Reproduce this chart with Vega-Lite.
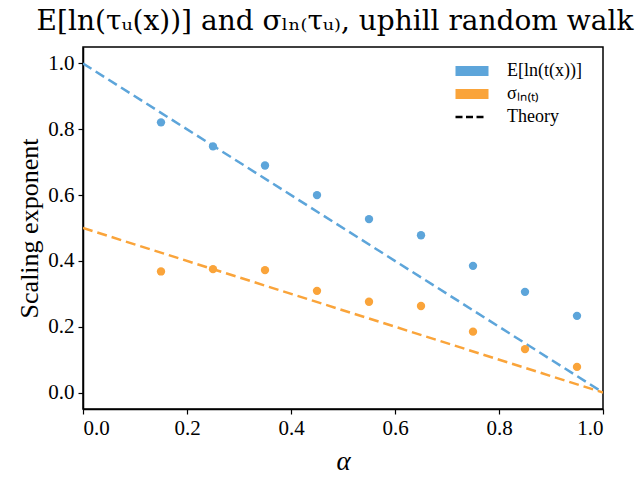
{
  "$schema": "https://vega.github.io/schema/vega-lite/v6.json",
  "autosize": "none",
  "width": 520,
  "height": 362,
  "padding": {"left": 83, "top": 47, "right": 33, "bottom": 68},
  "background": "white",
  "title": {
    "text": "E[ln(τᵤ(x))] and σₗₙ₍τᵤ₎, uphill random walk",
    "font": "DejaVu Serif",
    "fontSize": 28,
    "fontWeight": "normal",
    "color": "black",
    "anchor": "middle",
    "dx": -8,
    "offset": 11
  },
  "config": {
    "view": {"stroke": "black", "strokeWidth": 1.5},
    "font": "Liberation Serif",
    "axis": {"labelFont": "Liberation Serif", "labelFontSize": 21, "labelColor": "black"},
    "legend": {"labelFont": "Liberation Serif", "labelFontSize": 18, "labelColor": "black"},
    "style": {"guide-label": {"font": "Liberation Serif", "fontSize": 21, "fill": "black"}}
  },
  "datasets": {
    "pts": [
      {"alpha": 0.15, "value": 0.821, "series": "E[ln(t(x))]"},
      {"alpha": 0.25, "value": 0.748, "series": "E[ln(t(x))]"},
      {"alpha": 0.35, "value": 0.690, "series": "E[ln(t(x))]"},
      {"alpha": 0.45, "value": 0.600, "series": "E[ln(t(x))]"},
      {"alpha": 0.55, "value": 0.527, "series": "E[ln(t(x))]"},
      {"alpha": 0.65, "value": 0.478, "series": "E[ln(t(x))]"},
      {"alpha": 0.75, "value": 0.385, "series": "E[ln(t(x))]"},
      {"alpha": 0.85, "value": 0.306, "series": "E[ln(t(x))]"},
      {"alpha": 0.95, "value": 0.233, "series": "E[ln(t(x))]"},
      {"alpha": 0.15, "value": 0.368, "series": "σₗₙ₍ₜ₎"},
      {"alpha": 0.25, "value": 0.375, "series": "σₗₙ₍ₜ₎"},
      {"alpha": 0.35, "value": 0.372, "series": "σₗₙ₍ₜ₎"},
      {"alpha": 0.45, "value": 0.309, "series": "σₗₙ₍ₜ₎"},
      {"alpha": 0.55, "value": 0.276, "series": "σₗₙ₍ₜ₎"},
      {"alpha": 0.65, "value": 0.263, "series": "σₗₙ₍ₜ₎"},
      {"alpha": 0.75, "value": 0.185, "series": "σₗₙ₍ₜ₎"},
      {"alpha": 0.85, "value": 0.132, "series": "σₗₙ₍ₜ₎"},
      {"alpha": 0.95, "value": 0.078, "series": "σₗₙ₍ₜ₎"}
    ],
    "theory": [
      {"alpha": 0, "value": 1.0, "series": "E[ln(t(x))]"},
      {"alpha": 1, "value": 0.0, "series": "E[ln(t(x))]"},
      {"alpha": 0, "value": 0.5, "series": "σₗₙ₍ₜ₎"},
      {"alpha": 1, "value": 0.0, "series": "σₗₙ₍ₜ₎"}
    ]
  },
  "encoding": {
    "x": {
      "field": "alpha", "type": "quantitative",
      "scale": {"domain": [0, 1], "nice": false, "zero": false},
      "axis": {
        "values": [0, 0.2, 0.4, 0.6, 0.8, 1.0], "format": ".1f",
        "title": "α", "titleFont": "Liberation Serif", "titleFontSize": 27, "titleFontStyle": "italic", "titleFontWeight": "normal", "titleColor": "black", "titlePadding": 10,
        "labelFont": "Liberation Serif", "labelFontSize": 21, "labelColor": "black", "labelPadding": 3,
        "domainColor": "black", "domainWidth": 1.5, "tickColor": "black", "tickWidth": 1.2, "tickSize": 5, "grid": false
      }
    },
    "y": {
      "field": "value", "type": "quantitative",
      "scale": {"domain": [-0.05, 1.05], "nice": false, "zero": false},
      "axis": {
        "values": [0, 0.2, 0.4, 0.6, 0.8, 1.0], "format": ".1f",
        "title": "Scaling exponent", "titleFont": "Liberation Serif", "titleFontSize": 26, "titleFontWeight": "normal", "titleColor": "black", "titlePadding": 5,
        "labelFont": "Liberation Serif", "labelFontSize": 21, "labelColor": "black", "labelPadding": 4,
        "domainColor": "black", "domainWidth": 1.5, "tickColor": "black", "tickWidth": 1.2, "tickSize": 5, "grid": false
      }
    },
    "color": {
      "field": "series", "type": "nominal",
      "scale": {"domain": ["E[ln(t(x))]", "σₗₙ₍ₜ₎", "Theory"], "range": ["#5DA5DA", "#FAA43A", "black"]},
      "legend": {
        "orient": "none",
        "legendX": 371,
        "legendY": 6,
        "title": null,
        "symbolSize": 400,
        "symbolStrokeWidth": 0,
        "labelOffset": 25,
        "rowPadding": 4,
        "padding": 8,
        "labelFont": "Liberation Serif",
        "labelFontSize": 18,
        "labelColor": "black",
        "fillColor": "white",
        "encode": {
          "symbols": {
            "update": {
              "shape": {"signal": "datum.value === 'Theory' ? 'M-1.65,-0.12H-0.95V0.12H-1.65Z M-0.6,-0.12H0.1V0.12H-0.6Z M0.45,-0.12H1.15V0.12H0.45Z' : 'M-1.65,-0.5H1.65V0.5H-1.65Z'"},
              "opacity": {"value": 1}
            }
          }
        }
      }
    }
  },
  "layer": [
    {
      "data": {"name": "theory"},
      "mark": {"type": "line", "strokeWidth": 2.5, "strokeDash": [10, 5], "clip": true}
    },
    {
      "data": {"name": "pts"},
      "mark": {"type": "point", "filled": true, "size": 70, "opacity": 1}
    }
  ]
}
